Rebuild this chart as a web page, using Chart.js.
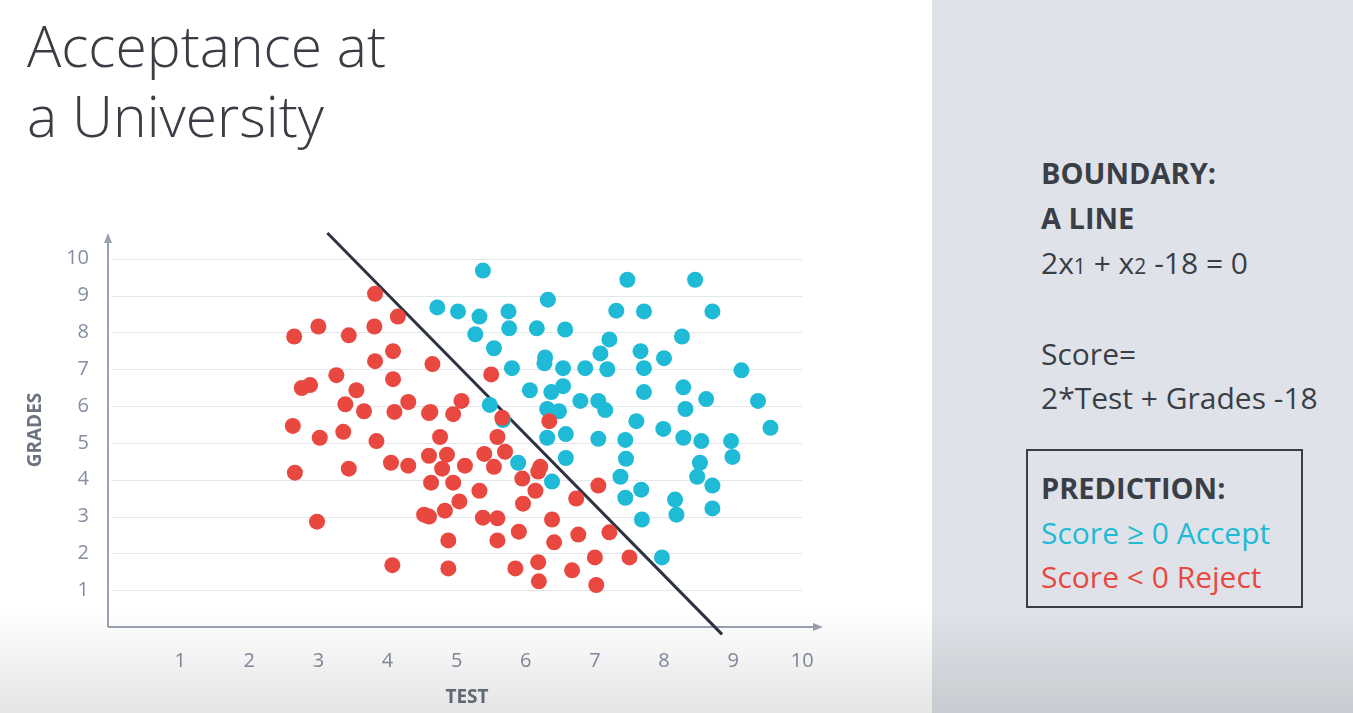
<!DOCTYPE html>
<html>
<head>
<meta charset="utf-8">
<script src="https://cdn.jsdelivr.net/npm/chart.js@4"></script>
<style>
  body { margin: 0; width: 1353px; height: 713px; overflow: hidden; background: #fff; font-family: "Open Sans", sans-serif; position: relative; }
  #side { position: absolute; left: 932px; top: 0; width: 421px; height: 713px; background: #dfe3e9; }
  #title { position: absolute; left: 27px; top: 10px; font-size: 57px; font-weight: 300; color: #3a3d44; line-height: 70px; }
  .t { position: absolute; left: 1041px; font-size: 30px; color: #3a3e46; white-space: nowrap; }
  .b { font-weight: 700; font-size: 29px; }
  #box { position: absolute; left: 1026px; top: 449px; width: 273px; height: 155px; border: 2px solid #3a3e46; }
  #fade { position: absolute; left: 0; top: 610px; width: 1353px; height: 103px; background: linear-gradient(rgba(0,0,0,0), rgba(0,0,0,0.10)); pointer-events: none; }
  #wrap { position: absolute; left: 0; top: 0; width: 932px; height: 713px; }
</style>
</head>
<body>
<div id="side"></div>
<div id="title">Acceptance at<br>a University</div>
<div class="t b" style="top:153px">BOUNDARY:</div>
<div class="t b" style="top:198px">A LINE</div>
<div class="t" style="top:242px">2x<span style="font-size:21px">1</span> + x<span style="font-size:21px">2</span> -18 = 0</div>
<div class="t" style="top:333px">Score=</div>
<div class="t" style="top:377px">2*Test + Grades -18</div>
<div id="box"></div>
<div class="t b" style="top:468px">PREDICTION:</div>
<div class="t" style="top:512px;color:#1fbad6">Score ≥ 0 Accept</div>
<div class="t" style="top:556px;color:#e8483f">Score &lt; 0 Reject</div>
<div id="wrap"><canvas id="c"></canvas></div>
<div id="fade"></div>
<script>
// rejected students: [test, grades]
const rejected = [
  [2.65,7.89],[3.0,8.16],[3.44,7.92],[3.81,8.16],[3.82,9.05],[4.15,8.43],[2.63,5.46],[2.76,6.49],
  [2.88,6.57],[3.26,6.84],[3.55,6.43],[3.39,6.05],[3.66,5.86],[3.82,7.22],[4.08,7.49],[4.08,6.73],
  [4.30,6.11],[4.10,5.84],[4.62,5.84],[3.84,5.05],[3.02,5.14],[3.36,5.30],[3.44,4.30],[2.66,4.19],
  [2.98,2.86],[4.05,4.46],[4.30,4.38],[4.07,1.68],[4.65,7.14],[4.60,5.81],[4.95,5.78],[5.07,6.14],
  [5.50,6.86],[4.76,5.16],[4.86,4.68],[4.60,4.65],[4.63,3.92],[4.95,3.92],[5.12,4.38],[4.79,4.30],
  [4.83,3.16],[5.04,3.41],[4.53,3.05],[4.60,3.0],[5.33,3.70],[5.40,4.70],[5.54,4.35],[5.59,5.16],
  [5.66,5.68],[5.70,4.76],[5.38,2.97],[5.59,2.95],[4.88,2.35],[4.88,1.59],[5.59,2.35],[5.90,2.59],
  [5.95,4.03],[6.14,3.70],[6.21,4.35],[6.34,5.59],[6.18,4.22],[5.96,3.35],[6.38,2.92],[6.41,2.30],
  [6.18,1.76],[6.19,1.24],[6.76,2.51],[6.73,3.49],[6.67,1.54],[7.0,1.89],[7.02,1.14],[7.05,3.84],
  [7.21,2.57],[7.50,1.89],[5.85,1.59]
];
// accepted students: [test, grades]
const accepted = [
  [5.38,9.68],[4.72,8.68],[5.02,8.57],[5.33,8.43],[5.27,7.95],[5.75,8.57],[5.54,7.57],[5.76,8.11],
  [6.32,8.89],[6.16,8.11],[6.57,8.08],[5.80,7.03],[6.06,6.43],[6.28,7.32],[6.37,6.38],[6.54,7.03],
  [6.54,6.54],[6.31,5.92],[6.48,5.86],[5.48,6.03],[5.67,5.62],[6.31,5.14],[6.58,5.24],[5.89,4.46],
  [6.38,3.95],[6.58,4.59],[6.79,6.14],[7.05,6.14],[7.08,7.43],[7.15,5.89],[7.21,7.81],[7.18,7.0],
  [6.86,7.03],[7.31,8.59],[7.05,5.11],[7.44,5.08],[7.45,4.57],[7.37,4.08],[7.44,3.51],[7.47,9.43],
  [7.71,8.57],[7.66,7.49],[7.71,7.03],[7.60,5.59],[7.71,6.38],[7.99,5.38],[8.0,7.30],[8.26,7.89],
  [8.28,6.51],[8.28,5.14],[8.31,5.92],[8.45,9.43],[8.54,5.05],[8.52,4.46],[8.48,4.08],[8.61,6.19],
  [8.70,8.57],[8.70,3.84],[8.70,3.22],[7.67,3.73],[7.68,2.92],[8.16,3.46],[8.18,3.05],[8.97,5.05],
  [8.99,4.62],[9.12,6.97],[9.36,6.14],[9.54,5.41],[7.97,1.89],[6.27,7.16]
];
// boundary line as drawn
const boundary = [[3.13,10.7],[8.84,-0.2]];
const tickValues = [1, 2, 3, 4, 5, 6, 7, 8, 9, 10];
const tickColor = '#848ea0';

const toPts = arr => arr.map(p => ({ x: p[0], y: p[1] }));
const isTick = v => v >= 1 && v <= 10 && Math.abs(v - Math.round(v)) < 1e-6;

const axesPlugin = {
  id: 'axes',
  beforeDatasetsDraw(chart) {
    const { ctx, chartArea: a, scales } = chart;
    ctx.save();
    // horizontal gridlines up to x = 10
    ctx.strokeStyle = '#e3e6eb';
    ctx.lineWidth = 1;
    const xr = scales.x.getPixelForValue(10);
    tickValues.forEach(v => {
      const y = Math.round(scales.y.getPixelForValue(v)) + 0.5;
      ctx.beginPath(); ctx.moveTo(a.left, y); ctx.lineTo(xr, y); ctx.stroke();
    });
    ctx.strokeStyle = '#9aa2b1';
    ctx.fillStyle = '#9aa2b1';
    ctx.lineWidth = 2;
    ctx.beginPath();
    ctx.moveTo(a.left - 3, a.bottom); ctx.lineTo(a.right - 4, a.bottom);
    ctx.moveTo(a.left - 3, a.bottom); ctx.lineTo(a.left - 3, a.top + 4);
    ctx.stroke();
    ctx.beginPath();
    ctx.moveTo(a.right, a.bottom); ctx.lineTo(a.right - 10, a.bottom - 4); ctx.lineTo(a.right - 10, a.bottom + 4); ctx.fill();
    ctx.beginPath();
    ctx.moveTo(a.left - 3, a.top); ctx.lineTo(a.left - 7, a.top + 10); ctx.lineTo(a.left + 1, a.top + 10); ctx.fill();
    ctx.restore();
  }
};

new Chart(document.getElementById('c'), {
  data: {
    datasets: [
      { type: 'scatter', data: toPts(rejected), backgroundColor: '#e8483f', borderWidth: 0, pointRadius: 8 },
      { type: 'scatter', data: toPts(accepted), backgroundColor: '#1fbad6', borderWidth: 0, pointRadius: 8 },
      { type: 'line', data: toPts(boundary), borderColor: '#2d3340', borderWidth: 3, pointRadius: 0, clip: false }
    ]
  },
  options: {
    responsive: true,
    maintainAspectRatio: false,
    animation: false,
    layout: { padding: { left: 20, top: 233, right: 109, bottom: 0 } },
    plugins: { legend: { display: false }, tooltip: { enabled: false } },
    scales: {
      x: {
        type: 'linear', min: 0, max: 10.3,
        grid: { display: false },
        border: { display: false },
        afterFit: s => { s.height = 86; },
        afterBuildTicks: s => { s.ticks = tickValues.map(v => ({ value: v })); },
        ticks: { color: tickColor, font: { size: 20, family: 'Open Sans' }, padding: 14,
          callback: v => isTick(v) ? Math.round(v) : '' },
        title: { display: true, text: 'TEST', color: '#6b7280', font: { size: 19, weight: 'bold', family: 'Open Sans' }, padding: { top: 4 } }
      },
      y: {
        type: 'linear', min: 0, max: 10.7,
        afterFit: s => { s.width = 91; },
        afterBuildTicks: s => { s.ticks = tickValues.map(v => ({ value: v })); },
        border: { display: false },
        grid: { display: false },
        ticks: { color: tickColor, font: { size: 20, family: 'Open Sans' }, padding: 14,
          callback: v => isTick(v) ? Math.round(v) : '' },
        title: { display: true, text: 'GRADES', color: '#6b7280', font: { size: 19, weight: 'bold', family: 'Open Sans' }, padding: { bottom: 8 } }
      }
    }
  },
  plugins: [axesPlugin]
});
</script>
</body>
</html>
